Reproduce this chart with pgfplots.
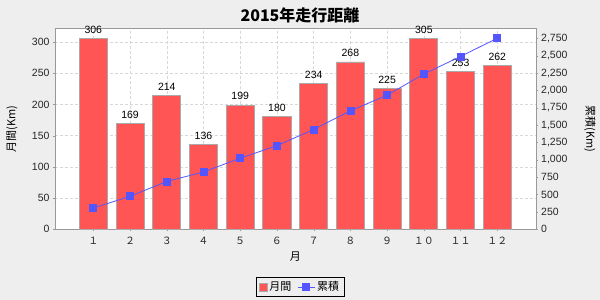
\documentclass[border=0pt]{standalone}
\usepackage{fontspec}
\setmainfont{Liberation Sans}
\newfontfamily\cjk{Noto Sans CJK JP}
\usepackage{pgfplots}
\pgfplotsset{compat=1.18}
\definecolor{bg}{HTML}{EEEEEE}
\definecolor{barred}{HTML}{FF5555}
\definecolor{lineblue}{HTML}{5555FF}
\definecolor{axgrey}{HTML}{999999}
\definecolor{gridgrey}{HTML}{D8D8D8}
\definecolor{bargrey}{HTML}{AAAAAA}

\pgfplotstableread{
m month cum
1 306 306
2 169 475
3 214 689
4 136 825
5 199 1024
6 180 1204
7 234 1438
8 268 1706
9 225 1931
10 305 2236
11 253 2489
12 262 2751
}\data

\begin{document}
\begin{tikzpicture}
\fill[bg] (0pt,0pt) rectangle (600pt,300pt);
\node[font=\cjk\bfseries\fontsize{16}{19}\selectfont] at (300pt,285pt) {2015年走行距離};
\begin{axis}[
  at={(55pt,70.7pt)}, anchor=south west,
  scale only axis, width=480.7pt, height=201pt,
  xmin=-0.043, xmax=13.045, ymin=0, ymax=321.9,
  xtick={1,...,12},
  xticklabels={１,２,３,４,５,６,７,８,９,１０,１１,１２},
  ytick={0,50,...,300},
  xtick pos=bottom, ytick pos=left,
  tick align=outside, major tick length=2pt,
  tick style={axgrey},
  axis line style={axgrey},
  grid=major, grid style={densely dashed, gridgrey},
  /pgf/number format/assume math mode=true,
  ticklabel style={font=\fontsize{10.5}{12}\selectfont, text=black!85},
  xticklabel style={font=\cjk\fontsize{10}{12}\selectfont, yshift=-2pt},
  xlabel={\cjk 月},
  xlabel style={at={(axis description cs:0.5,-0.138)}, anchor=center, font=\fontsize{11}{13}\selectfont},
  ylabel={\cjk 月間(Km)},
  ylabel style={at={(axis description cs:-0.0894,0.5)}, anchor=center, font=\fontsize{11}{13}\selectfont},
  axis background/.style={fill=white},
  clip=false,
  ybar, bar width=28pt,
  nodes near coords,
  nodes near coords style={font=\fontsize{10.5}{12}\selectfont, inner sep=1pt, yshift=3.5pt},
]
\addplot[fill=barred, draw=bargrey, line width=0.9pt] table[x=m, y=month] {\data};
\end{axis}
\begin{axis}[
  at={(55pt,70.7pt)}, anchor=south west,
  scale only axis, width=480.7pt, height=201pt,
  xmin=-0.043, xmax=13.045, ymin=0, ymax=2894,
  axis x line=none, axis y line*=right,
  ytick={0,250,...,2750},
  tick align=outside, major tick length=2pt,
  tick style={axgrey},
  axis line style={axgrey, -},
  /pgf/number format/assume math mode=true,
  /pgf/number format/1000 sep={,},
  ticklabel style={font=\fontsize{10.5}{12}\selectfont, text=black!85},
  ylabel={\cjk 累積(Km)},
  ylabel style={at={(axis description cs:1.113,0.5)}, anchor=center, rotate=180, font=\fontsize{11}{13}\selectfont},
  legend columns=2,
  legend style={at={(axis description cs:0.5097,-0.287)}, anchor=center, draw=black, fill=bg,
    font=\cjk\fontsize{11}{13}\selectfont, /tikz/every even column/.append style={column sep=4pt}},
]
\addlegendimage{legend image code/.code={\draw[fill=barred, draw=bargrey] (2pt,-4pt) rectangle (10pt,4pt);}}
\addlegendentry{月間}
\addplot[lineblue, line width=0.8pt, mark=square*, mark size=3.5pt, mark options={fill=lineblue, draw=lineblue}] table[x=m, y=cum] {\data};
\addlegendentry{累積}
\end{axis}
\end{tikzpicture}
\end{document}
